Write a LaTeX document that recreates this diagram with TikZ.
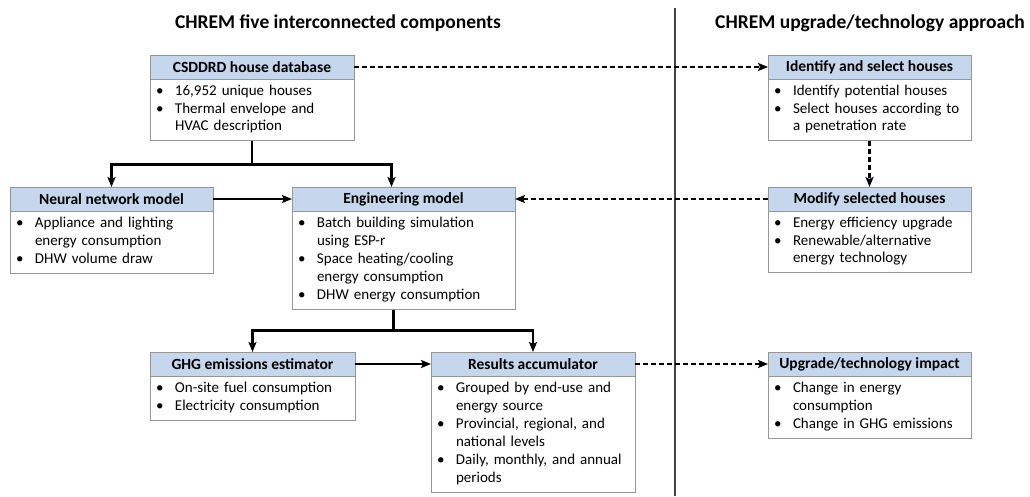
\documentclass[tikz,border=0pt]{standalone}
\usepackage{fontspec}
\setmainfont{Carlito}
\usetikzlibrary{arrows.meta, positioning}
\definecolor{hdrblue}{RGB}{197,214,237}
\definecolor{boxgray}{RGB}{150,150,150}
\setlength{\lineskip}{0pt}
\newcommand{\bul}[1]{\noindent\makebox[22pt][l]{\hspace{3pt}\textbullet}\begin{tabular}[t]{@{}l@{}}#1\end{tabular}\par}
\tikzstyle{header} = [rectangle, 
anchor=north west, 
minimum height=24pt, 
inner sep=0pt, 
outer sep=0pt, 
line width=0.8pt, 
draw=boxgray, 
fill=hdrblue, 
font=\fontsize{15.5}{18}\selectfont\bfseries]
\tikzstyle{body} = [rectangle, 
inner xsep=3pt, 
inner ysep=4.5pt, 
outer sep=0pt, 
line width=0.8pt, 
draw=boxgray, 
fill=white, 
align=left, 
font=\fontsize{15}{17.5}\selectfont]
\tikzstyle{title} = [font=\fontsize{19.5}{23}\selectfont\bfseries]
\tikzstyle{arrow} = [line width=2.2pt,-{Stealth[length=10pt, width=8pt, inset=2pt]}]
\tikzstyle{dasharrow} = [arrow, dash pattern=on 5pt off 3pt]

\begin{document}
\begin{tikzpicture}[x=1pt, y=-1pt]
\useasboundingbox (0,0) rectangle (1030,496);

\node (lefttitle) [title] at (338,23) {CHREM five interconnected components};
\node (righttitle) [title] at (870,23) {CHREM upgrade/technology approach};
\draw [line width=1.3pt, black!75] (675,8) -- (675,496);

\node (csdh) [header, minimum width=204pt] at (150,55) {CSDDRD house database};
\node (csdb) [body, text width=198pt, below=0pt of csdh] {\bul{16,952 unique houses}\bul{Thermal envelope and\\HVAC description}};
\node (nnh) [header, minimum width=203pt] at (10,187) {Neural network model};
\node (nnb) [body, text width=197pt, below=0pt of nnh] {\bul{Appliance and lighting\\energy consumption}\bul{DHW volume draw}};
\node (engh) [header, minimum width=223pt] at (292,187) {Engineering model};
\node (engb) [body, text width=217pt, below=0pt of engh] {\bul{Batch building simulation\\using ESP-r}\bul{Space heating/cooling\\energy consumption}\bul{DHW energy consumption}};
\node (ghgh) [header, minimum width=205pt] at (150,352) {GHG emissions estimator};
\node (ghgb) [body, text width=199pt, below=0pt of ghgh] {\bul{On-site fuel consumption}\bul{Electricity consumption}};
\node (resh) [header, minimum width=204pt] at (431,352) {Results accumulator};
\node (resb) [body, text width=198pt, below=0pt of resh] {\bul{Grouped by end-use and\\energy source}\bul{Provincial, regional, and\\national levels}\bul{Daily, monthly, and annual\\periods}};

\node (idfh) [header, minimum width=203pt] at (768,55) {Identify and select houses};
\node (idfb) [body, text width=197pt, below=0pt of idfh] {\bul{Identify potential houses}\bul{Select houses according to\\a penetration rate}};
\node (modh) [header, minimum width=203pt] at (768,187) {Modify selected houses};
\node (modb) [body, text width=197pt, below=0pt of modh] {\bul{Energy efficiency upgrade}\bul{Renewable/alternative\\energy technology}};
\node (upgh) [header, minimum width=203pt] at (768,352) {Upgrade/technology impact};
\node (upgb) [body, text width=197pt, below=0pt of upgh] {\bul{Change in energy\\consumption}\bul{Change in GHG emissions}};

\draw [arrow] (csdb.south) -- ++(0,24) -| (nnh.north);
\draw [arrow] (csdb.south) -- ++(0,24) -| ([xshift=-12pt]engh.north);
\draw [arrow] (nnh.east) -- (engh.west);
\draw [arrow] ([xshift=-10pt]engb.south) -- ++(0,21) -| (ghgh.north);
\draw [arrow] ([xshift=-10pt]engb.south) -- ++(0,21) -| (resh.north);
\draw [arrow] (ghgh.east) -- (resh.west);
\draw [dasharrow] (csdh.east) -- (idfh.west);
\draw [dasharrow] (idfb.south) -- (modh.north);
\draw [dasharrow] (modh.west) -- (engh.east);
\draw [dasharrow] (resh.east) -- (upgh.west);
\end{tikzpicture}
\end{document}
